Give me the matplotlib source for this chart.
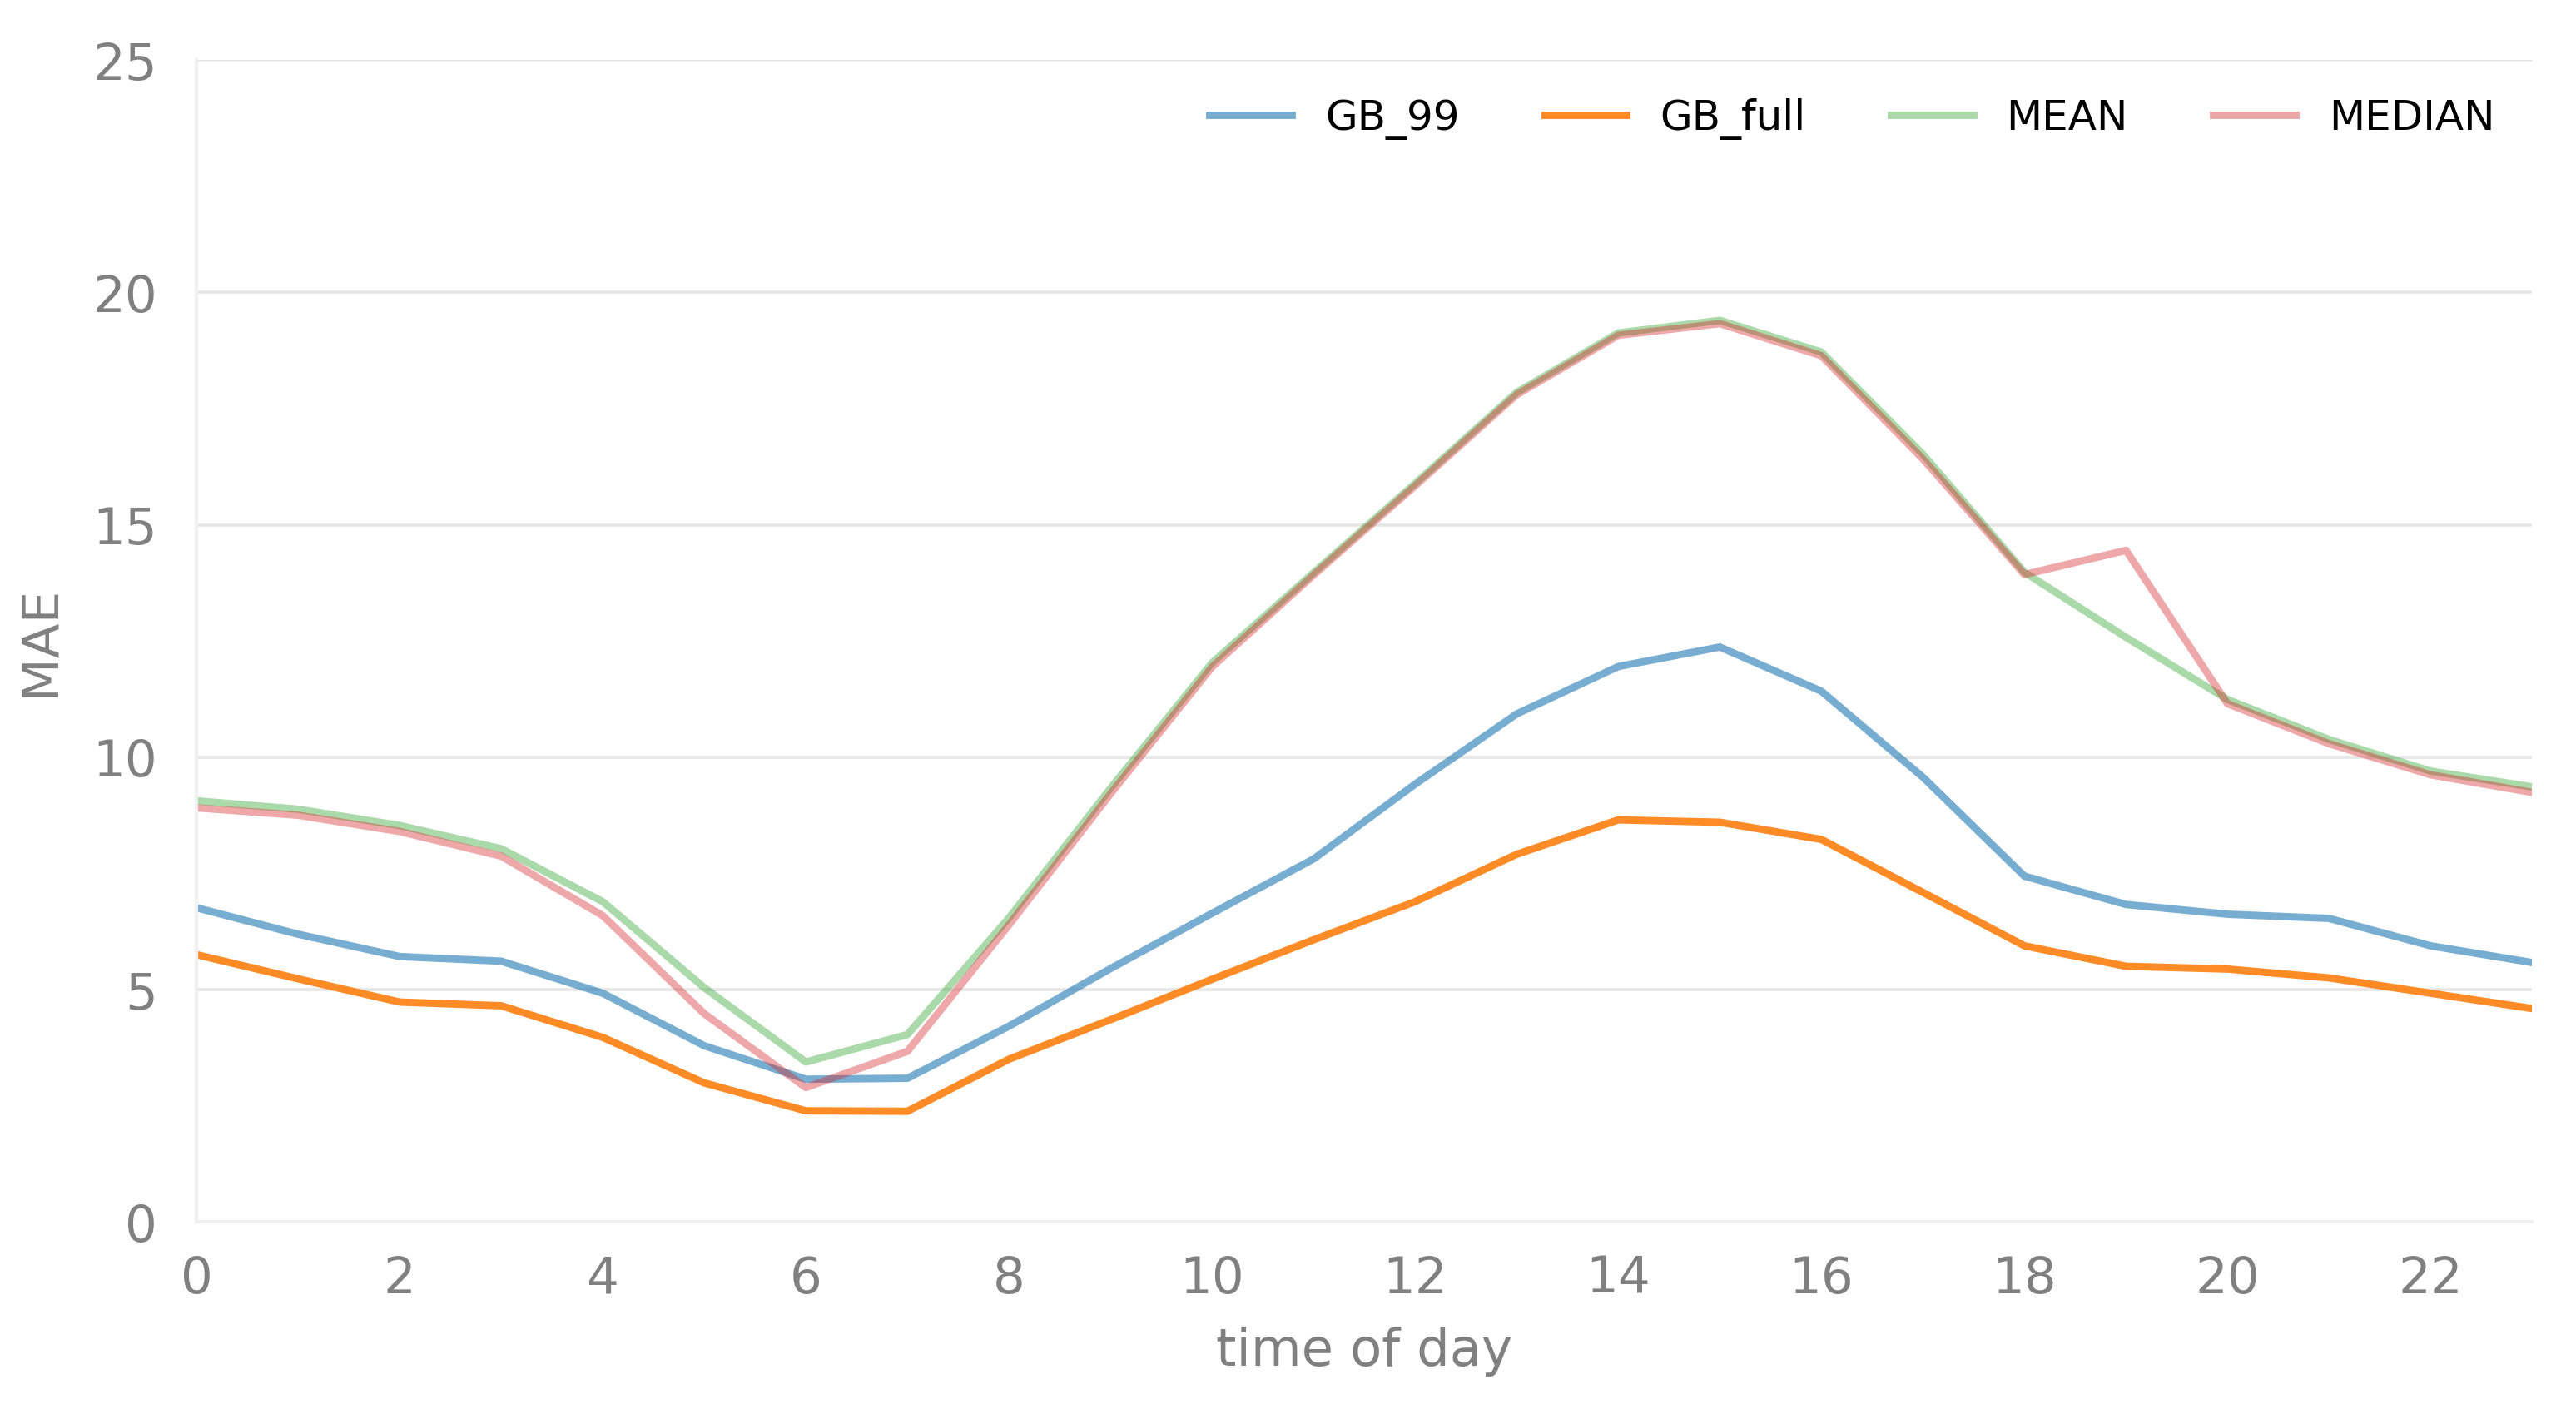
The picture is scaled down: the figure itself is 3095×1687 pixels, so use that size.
import matplotlib
matplotlib.use("Agg")
import matplotlib.pyplot as plt

hours = list(range(24))
gb_99 = [6.76, 6.19, 5.71, 5.61, 4.92, 3.79, 3.07, 3.09, 4.21, 5.45, 6.64, 7.81,
         9.42, 10.93, 11.95, 12.37, 11.42, 9.57, 7.44, 6.83, 6.62, 6.53, 5.94, 5.58]
gb_full = [5.75, 5.23, 4.73, 4.65, 3.97, 2.99, 2.39, 2.38, 3.50, 4.35, 5.22, 6.07,
           6.89, 7.91, 8.65, 8.60, 8.23, 7.09, 5.94, 5.50, 5.44, 5.25, 4.92, 4.59]
mean_ = [9.06, 8.88, 8.53, 8.03, 6.89, 5.04, 3.44, 4.03, 6.54, 9.33, 12.03, 13.97,
         15.89, 17.85, 19.13, 19.40, 18.72, 16.52, 13.98, 12.58, 11.24, 10.38, 9.70, 9.36]
median_ = [8.91, 8.75, 8.40, 7.87, 6.59, 4.48, 2.89, 3.67, 6.39, 9.21, 11.94, 13.92,
           15.84, 17.80, 19.08, 19.33, 18.64, 16.42, 13.93, 14.45, 11.15, 10.29, 9.62, 9.24]
labels = ["GB_99", "GB_full", "MEAN", "MEDIAN"]
xticks = list(range(0, 24, 2))
yticks = [0, 5, 10, 15, 20, 25]

fig = plt.figure(figsize=(15.475, 8.438), dpi=200)
ax = fig.add_axes([0.0763, 0.1297, 0.9067, 0.8271])

lw = 3.2
ax.plot(hours, gb_99, color="#1f77b4", alpha=0.6, lw=lw, label=labels[0])
ax.plot(hours, gb_full, color="#ff7f0e", alpha=0.9, lw=lw, label=labels[1])
ax.plot(hours, mean_, color="#2ca02c", alpha=0.4, lw=lw, label=labels[2])
ax.plot(hours, median_, color="#d62728", alpha=0.4, lw=lw, label=labels[3])

ax.set_xlim(0, 23)
ax.set_ylim(0, 25)
ax.set_xticks(xticks)
ax.set_yticks(yticks)
ax.yaxis.grid(True, color="#e6e6e6", lw=1.3)
ax.set_axisbelow(True)
for s in ["top", "right"]:
    ax.spines[s].set_visible(False)
for s in ["left", "bottom"]:
    ax.spines[s].set_color("#f0f0f0")
    ax.spines[s].set_linewidth(1.5)

ax.tick_params(axis="both", length=0, labelsize=22, labelcolor="#808080")
ax.tick_params(axis="x", pad=14)
ax.tick_params(axis="y", pad=17)
ax.set_xlabel("time of day", fontsize=22.5, color="#808080", labelpad=10)
ax.set_ylabel("MAE", fontsize=22, color="#808080", labelpad=12)

ax.legend(loc="upper right", ncol=4, frameon=False, fontsize=18,
          handlelength=1.97, handletextpad=0.8, columnspacing=2.05,
          bbox_to_anchor=(1.0, 1.0))

fig.savefig("out.png", dpi=200)
